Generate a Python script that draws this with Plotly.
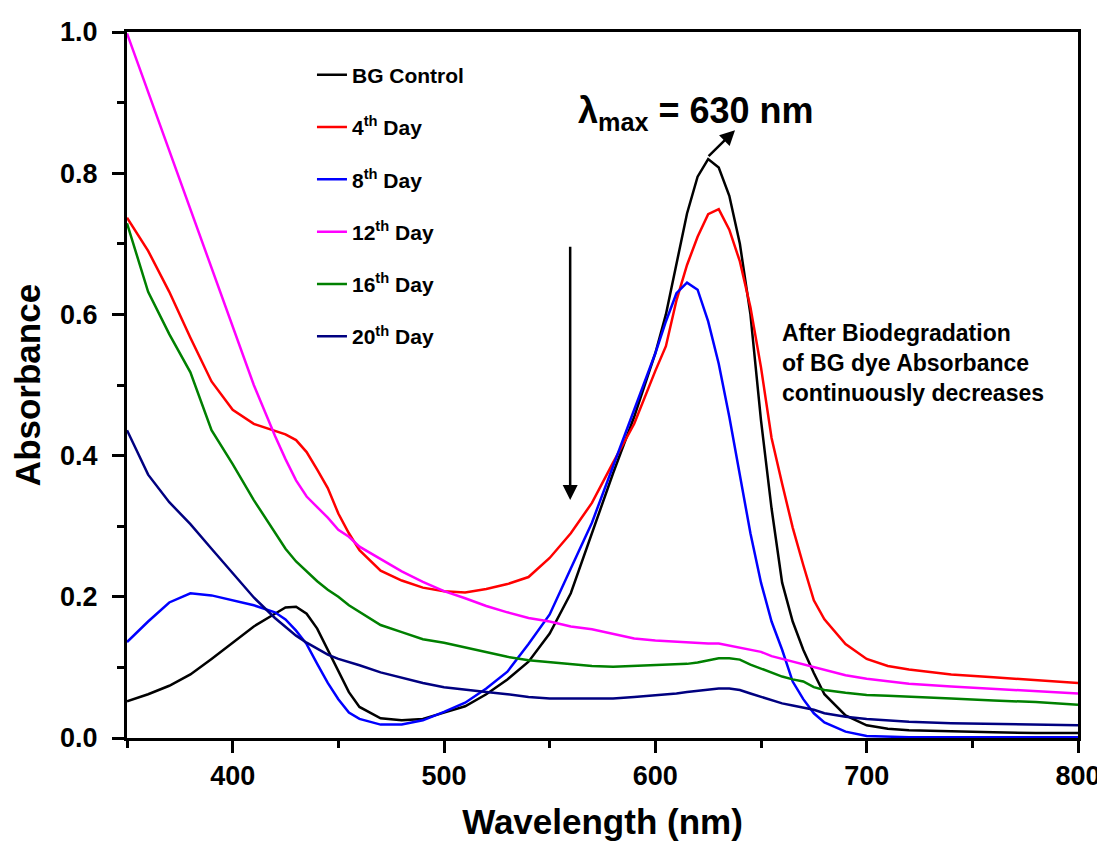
import plotly.graph_objects as go

wavelength = [350, 360, 370, 380, 390, 400, 410, 420, 425, 430, 435, 440, 445, 450, 455, 460,
              470, 480, 490, 500, 510, 520, 530, 540, 550, 560, 570, 580, 590, 600, 605, 610,
              615, 620, 625, 630, 635, 640, 645, 650, 655, 660, 665, 670, 675, 680, 690, 700,
              710, 720, 740, 760, 780, 800]

bg_control = [0.052, 0.062, 0.074, 0.090, 0.112, 0.135, 0.158, 0.176, 0.185, 0.186, 0.176, 0.155,
              0.125, 0.095, 0.065, 0.044, 0.028, 0.025, 0.027, 0.036, 0.045, 0.062, 0.083, 0.108,
              0.148, 0.205, 0.290, 0.375, 0.455, 0.545, 0.600, 0.672, 0.743, 0.795, 0.820, 0.808,
              0.768, 0.700, 0.600, 0.450, 0.325, 0.220, 0.165, 0.125, 0.092, 0.062, 0.032, 0.018,
              0.013, 0.011, 0.009, 0.008, 0.007, 0.007]

day4 = [0.737, 0.690, 0.632, 0.567, 0.505, 0.465, 0.445, 0.435, 0.430, 0.422, 0.405, 0.380,
        0.354, 0.318, 0.290, 0.266, 0.237, 0.223, 0.213, 0.208, 0.206, 0.211, 0.218, 0.228,
        0.255, 0.290, 0.333, 0.390, 0.445, 0.520, 0.555, 0.620, 0.670, 0.710, 0.742, 0.749,
        0.720, 0.675, 0.610, 0.525, 0.425, 0.360, 0.298, 0.245, 0.195, 0.168, 0.133, 0.112,
        0.102, 0.097, 0.090, 0.086, 0.082, 0.078]

day8 = [0.136, 0.165, 0.192, 0.205, 0.202, 0.195, 0.188, 0.178, 0.168, 0.152, 0.133, 0.105,
        0.078, 0.055, 0.036, 0.027, 0.019, 0.019, 0.025, 0.037, 0.050, 0.070, 0.094, 0.133,
        0.175, 0.240, 0.305, 0.385, 0.465, 0.545, 0.590, 0.630, 0.645, 0.635, 0.590, 0.530,
        0.455, 0.375, 0.290, 0.220, 0.165, 0.125, 0.080, 0.055, 0.035, 0.022, 0.009, 0.003,
        0.002, 0.001, 0.001, 0.001, 0.001, 0.001]

day12 = [0.998, 0.915, 0.835, 0.752, 0.668, 0.584, 0.500, 0.428, 0.395, 0.365, 0.342, 0.327,
         0.312, 0.295, 0.285, 0.271, 0.254, 0.236, 0.221, 0.208, 0.198, 0.187, 0.178, 0.170,
         0.165, 0.158, 0.154, 0.147, 0.141, 0.138, 0.137, 0.136, 0.135, 0.135, 0.134, 0.134,
         0.131, 0.128, 0.125, 0.122, 0.116, 0.112, 0.108, 0.104, 0.100, 0.096, 0.089, 0.084,
         0.080, 0.077, 0.073, 0.070, 0.066, 0.063]

day16 = [0.729, 0.632, 0.572, 0.518, 0.436, 0.388, 0.337, 0.290, 0.268, 0.250, 0.236, 0.222,
         0.210, 0.200, 0.188, 0.179, 0.160, 0.150, 0.140, 0.135, 0.128, 0.121, 0.115, 0.110,
         0.107, 0.104, 0.102, 0.101, 0.102, 0.103, 0.103, 0.104, 0.105, 0.107, 0.110, 0.113,
         0.113, 0.111, 0.104, 0.098, 0.092, 0.087, 0.083, 0.080, 0.072, 0.068, 0.064, 0.061,
         0.060, 0.059, 0.056, 0.053, 0.051, 0.047]

day20 = [0.436, 0.373, 0.334, 0.303, 0.268, 0.234, 0.199, 0.170, 0.157, 0.145, 0.135, 0.126,
         0.118, 0.112, 0.108, 0.103, 0.093, 0.085, 0.078, 0.072, 0.068, 0.065, 0.062, 0.058,
         0.056, 0.056, 0.056, 0.056, 0.058, 0.060, 0.062, 0.063, 0.065, 0.067, 0.069, 0.070,
         0.070, 0.068, 0.063, 0.058, 0.054, 0.049, 0.046, 0.043, 0.040, 0.035, 0.030, 0.027,
         0.025, 0.023, 0.021, 0.020, 0.019, 0.018]

series_names = ["BG Control", "4<sup>th</sup> Day", "8<sup>th</sup> Day",
                "12<sup>th</sup> Day", "16<sup>th</sup> Day", "20<sup>th</sup> Day"]
series_values = [bg_control, day4, day8, day12, day16, day20]
series_colors = ["#000000", "#FF0000", "#0000FF", "#FF00FF", "#008000", "#000080"]

x_ticks = [400, 500, 600, 700, 800]
y_ticks = [0.0, 0.2, 0.4, 0.6, 0.8, 1.0]

FONT = "Liberation Sans, Arial, sans-serif"

fig = go.Figure()
for i, (name, vals, col) in enumerate(zip(series_names, series_values, series_colors)):
    fig.add_trace(go.Scatter(x=wavelength, y=vals, mode="lines", name=name,
                             legendgroup=f"g{i}",
                             line=dict(color=col, width=2.5)))

axis_common = dict(showline=True, linewidth=3, linecolor="black", mirror=True,
                   ticks="outside", ticklen=12, tickwidth=3, tickcolor="black",
                   showgrid=False, zeroline=False, automargin=False,
                   tickfont=dict(family=FONT, size=27, color="black", weight="bold"))

fig.update_xaxes(range=[350, 800], tickvals=x_ticks,
                 minor=dict(ticks="outside", ticklen=7, tickwidth=3, tickcolor="black",
                            tick0=350, dtick=50),
                 title=dict(text="Wavelength (nm)", standoff=20,
                            font=dict(family=FONT, size=35, color="black", weight="bold")),
                 **axis_common)
fig.update_yaxes(range=[0, 1.0], tickvals=y_ticks, tickformat=".1f",
                 ticklabelstandoff=9,
                 minor=dict(ticks="outside", ticklen=7, tickwidth=3, tickcolor="black",
                            tick0=0, dtick=0.1),
                 title=dict(text="Absorbance", standoff=10,
                            font=dict(family=FONT, size=35, color="black", weight="bold")),
                 **axis_common)

fig.add_annotation(x=619.3, y=0.885, xref="x", yref="y",
                   text="λ<sub>max</sub> = 630 nm", showarrow=False,
                   font=dict(family=FONT, size=36, color="black", weight="bold"))
fig.add_annotation(x=637.7, y=0.861, ax=624.5, ay=0.822, xref="x", yref="y",
                   axref="x", ayref="y", text="", showarrow=True,
                   arrowhead=2, arrowsize=1.2, arrowwidth=2.5, arrowcolor="black")
fig.add_annotation(x=559.7, y=0.337, ax=559.7, ay=0.698, xref="x", yref="y",
                   axref="x", ayref="y", text="", showarrow=True,
                   arrowhead=2, arrowsize=1.2, arrowwidth=2.5, arrowcolor="black")
fig.add_annotation(x=658.9, y=0.531, xref="x", yref="y", xanchor="left", yanchor="middle",
                   align="left", showarrow=False,
                   text="After Biodegradation<br>of BG dye Absorbance<br>continuously decreases",
                   font=dict(family=FONT, size=23, color="black", weight="bold"))

fig.update_layout(
    width=1097, height=835,
    margin=dict(l=119, r=27, t=24, b=105),
    paper_bgcolor="white", plot_bgcolor="white",
    showlegend=True,
    legend=dict(x=0.1945, y=0.968, xanchor="left", yanchor="top",
                bgcolor="rgba(0,0,0,0)", borderwidth=0,
                tracegroupgap=22, traceorder="grouped",
                font=dict(family=FONT, size=21, color="black", weight="bold")),
)

fig.write_html("out.html")
